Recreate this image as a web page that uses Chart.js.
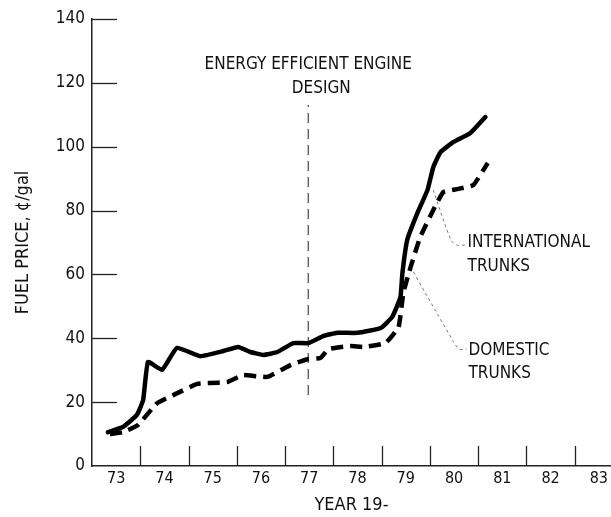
<!DOCTYPE html>
<html>
<head>
<meta charset="utf-8">
<script src="https://cdn.jsdelivr.net/npm/chart.js@4.4.1/dist/chart.umd.min.js"></script>
<style>
html,body{margin:0;padding:0;background:#fff;}
#wrap{width:611px;height:517px;position:relative;}
</style>
</head>
<body>
<div id="wrap"><canvas id="c" width="611" height="517"></canvas></div>
<script>
// ---- data ----
const yearLabels = ["73","74","75","76","77","78","79","80","81","82","83"];
const yearTickMarks = [74,75,76,77,78,79,80,81,82,83];
const priceTicks = [0,20,40,60,80,100,120,140];

const intlYears = [73.33,73.64,73.93,74.06,74.16,74.45,74.76,75.24,75.72,76.03,76.28,76.55,76.84,77.17,77.48,77.79,78.08,78.5,78.98,79.22,79.39,79.43,79.53,79.74,79.95,80.07,80.22,80.49,80.84,81.15];
const intlPrice = [10.6,12.2,16.0,20.7,32.6,30.1,37.0,34.4,36.0,37.3,35.7,34.8,35.7,38.5,38.5,40.7,41.7,41.7,43.2,46.7,52.9,60.4,70.8,79.2,86.4,93.6,98.3,101.5,104.3,109.3];

const domYears = [73.37,73.64,73.95,74.35,74.68,75.18,75.45,75.8,76.13,76.63,77.11,77.48,77.73,77.9,78.35,78.62,79.08,79.35,79.45,79.6,79.8,80.07,80.28,80.59,80.9,81.2];
const domPrice = [10.0,10.6,12.8,19.7,22.2,25.7,26.0,26.3,28.5,27.9,31.6,33.5,33.8,36.6,37.6,37.3,38.5,43.5,54.2,62.3,71.7,80.2,85.8,86.8,88.0,94.9];

const eedYear = 77.48;
const eedRange = [22.2, 113.1];
const eedText = ["ENERGY EFFICIENT ENGINE", "DESIGN"];
const eedTextPos = [[77.48,125.6],[77.75,118.1]];

const intlLeaderX = [80.07,80.43,80.55,80.72];
const intlLeaderY = [86.4,71.0,69.2,69.2];
const intlText = ["INTERNATIONAL","TRUNKS"];
const intlTextPos = [[80.78,70.0],[80.78,62.5]];

const domLeaderX = [79.60,80.49,80.61,80.76];
const domLeaderY = [62.3,38.9,36.6,36.6];
const domText = ["DOMESTIC","TRUNKS"];
const domTextPos = [[80.80,36.0],[80.80,28.8]];

const FONT = "'Liberation Sans Narrow','DejaVu Sans Condensed','Arial Narrow',sans-serif";

function pts(xs, ys){ return xs.map((x,i)=>({x:x,y:ys[i]})); }

const decor = {
  id:'decor',
  afterDraw(chart){
    const ctx = chart.ctx, xs = chart.scales.x, ys = chart.scales.y;
    ctx.save();
    ctx.strokeStyle = '#222'; ctx.lineWidth = 1.3;
    priceTicks.forEach(v=>{
      if(v===0) return;
      const py = Math.round(ys.getPixelForValue(v))+0.5;
      ctx.beginPath(); ctx.moveTo(xs.left, py); ctx.lineTo(xs.left+25, py); ctx.stroke();
    });
    yearTickMarks.forEach(v=>{
      const px = Math.round(xs.getPixelForValue(v))+0.5;
      ctx.beginPath(); ctx.moveTo(px, ys.bottom); ctx.lineTo(px, ys.bottom-20); ctx.stroke();
    });
    ctx.fillStyle = '#111';
    ctx.textBaseline = 'middle';
    ctx.font = '17px ' + FONT;
    ctx.textAlign = 'center';
    eedText.forEach((t,i)=>{
      ctx.fillText(t, xs.getPixelForValue(eedTextPos[i][0]), ys.getPixelForValue(eedTextPos[i][1]));
    });
    ctx.textAlign = 'left';
    ctx.font = '17px ' + FONT;
    intlText.forEach((t,i)=>{
      ctx.fillText(t, xs.getPixelForValue(intlTextPos[i][0]), ys.getPixelForValue(intlTextPos[i][1]));
    });
    domText.forEach((t,i)=>{
      ctx.fillText(t, xs.getPixelForValue(domTextPos[i][0]), ys.getPixelForValue(domTextPos[i][1]));
    });
    ctx.restore();
  }
};

new Chart(document.getElementById('c'), {
  type:'line',
  data:{
    datasets:[
      {label:'International trunks', data:pts(intlYears,intlPrice), borderColor:'#000', borderWidth:4.5, pointRadius:0, tension:0.12, borderCapStyle:'round', borderJoinStyle:'round', fill:false},
      {label:'Domestic trunks', data:pts(domYears,domPrice), borderColor:'#000', borderWidth:4.5, borderDash:[12,7], pointRadius:0, tension:0.12, fill:false},
      {label:'EED', data:[{x:eedYear,y:eedRange[0]},{x:eedYear,y:eedRange[1]}], borderColor:'#444', borderWidth:1.2, borderDash:[10,6], pointRadius:0, fill:false},
      {label:'intl leader', data:pts(intlLeaderX,intlLeaderY), borderColor:'#777', borderWidth:1, borderDash:[3,3], pointRadius:0, tension:0.3, fill:false},
      {label:'dom leader', data:pts(domLeaderX,domLeaderY), borderColor:'#777', borderWidth:1, borderDash:[3,3], pointRadius:0, tension:0.3, fill:false}
    ]
  },
  options:{
    responsive:false, animation:false, devicePixelRatio:1,
    layout:{padding:{left:0, right:0, top:19, bottom:0}},
    plugins:{legend:{display:false}, tooltip:{enabled:false}},
    scales:{
      x:{
        type:'linear', min:73, max:83.75,
        afterBuildTicks(s){ s.ticks = yearLabels.map((l,i)=>({value:73.5+i})); },
        afterFit(s){ s.height = 51; },
        grid:{display:false, drawTicks:false},
        border:{display:true, color:'#222', width:1.5},
        ticks:{color:'#111', padding:3, font:{family:FONT, size:16}, maxRotation:0, autoSkip:false,
          callback:(v)=>yearLabels[Math.round(v-73.5)]},
        title:{display:true, text:'YEAR 19-', color:'#111', font:{family:FONT, size:18}, padding:{top:0,bottom:1}}
      },
      y:{
        min:0, max:140,
        afterBuildTicks(s){ s.ticks = priceTicks.map(v=>({value:v})); },
        afterFit(s){ s.width = 92; },
        grid:{display:false, drawTicks:false},
        border:{display:true, color:'#222', width:1.5},
        ticks:{color:'#111', padding:7, font:{family:FONT, size:17}},
        title:{display:true, text:'FUEL PRICE, \u00a2/gal', color:'#111', font:{family:FONT, size:18}, padding:{top:13,bottom:0}}
      }
    }
  },
  plugins:[decor]
});
</script>
</body>
</html>
